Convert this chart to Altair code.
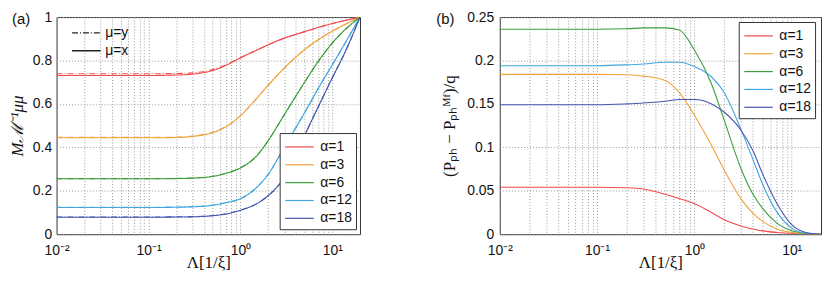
import altair as alt
import pandas as pd

# ---------------- data ----------------
lam = [0.01, 0.02, 0.05, 0.1, 0.2, 0.3, 0.5, 0.7, 1, 1.5, 2, 3, 4, 5, 7, 10, 14, 20]
alphas = ["α=1", "α=3", "α=6", "α=12", "α=18"]
colors = ["#f24a4a", "#f0a23c", "#3c9e3c", "#42a6e0", "#4656ad"]
mus = ["μ=y", "μ=x"]
panel_labels = ["(a)", "(b)"]

# panel (a): M M^-1_{mu mu}, mu = x (solid)
a_x_1 = [0.731, 0.731, 0.731, 0.731, 0.733, 0.737, 0.754, 0.778, 0.812, 0.847, 0.872, 0.903, 0.920, 0.933, 0.952, 0.970, 0.985, 1.0]
a_x_3 = [0.444, 0.444, 0.444, 0.444, 0.445, 0.450, 0.468, 0.495, 0.545, 0.625, 0.685, 0.765, 0.815, 0.850, 0.895, 0.935, 0.968, 1.0]
a_x_6 = [0.255, 0.255, 0.255, 0.255, 0.256, 0.258, 0.266, 0.280, 0.305, 0.360, 0.430, 0.550, 0.635, 0.700, 0.795, 0.880, 0.945, 1.0]
a_x_12 = [0.123, 0.123, 0.123, 0.123, 0.124, 0.126, 0.133, 0.145, 0.163, 0.215, 0.275, 0.400, 0.490, 0.560, 0.670, 0.780, 0.885, 1.0]
a_x_18 = [0.078, 0.078, 0.078, 0.078, 0.079, 0.080, 0.085, 0.093, 0.110, 0.140, 0.177, 0.262, 0.365, 0.455, 0.585, 0.720, 0.845, 1.0]

# panel (a): mu = y (dash-dot)
a_y_1 = [0.739, 0.739, 0.739, 0.739, 0.740, 0.743, 0.758, 0.780, 0.813, 0.848, 0.872, 0.903, 0.920, 0.933, 0.952, 0.970, 0.985, 1.0]
a_y_3 = [0.446, 0.446, 0.446, 0.446, 0.447, 0.452, 0.470, 0.497, 0.546, 0.625, 0.685, 0.765, 0.815, 0.850, 0.895, 0.935, 0.968, 1.0]
a_y_6 = [0.256, 0.256, 0.256, 0.256, 0.257, 0.259, 0.267, 0.281, 0.306, 0.360, 0.430, 0.550, 0.635, 0.700, 0.795, 0.880, 0.945, 1.0]
a_y_12 = [0.124, 0.124, 0.124, 0.124, 0.125, 0.127, 0.134, 0.146, 0.164, 0.215, 0.275, 0.400, 0.490, 0.560, 0.670, 0.780, 0.885, 1.0]
a_y_18 = [0.079, 0.079, 0.079, 0.079, 0.080, 0.081, 0.086, 0.094, 0.111, 0.140, 0.177, 0.262, 0.365, 0.455, 0.585, 0.720, 0.845, 1.0]

# panel (b): (P_ph - P_ph^MF)/q
b_1 = [0.054, 0.054, 0.054, 0.054, 0.0535, 0.052, 0.046, 0.041, 0.035, 0.025, 0.017, 0.0095, 0.006, 0.0038, 0.002, 0.001, 0.0003, 0.0]
b_3 = [0.184, 0.184, 0.184, 0.184, 0.1835, 0.182, 0.177, 0.163, 0.137, 0.102, 0.075, 0.041, 0.024, 0.015, 0.006, 0.002, 0.0005, 0.0]
b_6 = [0.236, 0.236, 0.236, 0.236, 0.2365, 0.2375, 0.2375, 0.235, 0.212, 0.173, 0.133, 0.076, 0.046, 0.030, 0.013, 0.004, 0.001, 0.0]
b_12 = [0.194, 0.194, 0.194, 0.194, 0.195, 0.196, 0.198, 0.198, 0.193, 0.181, 0.164, 0.121, 0.086, 0.058, 0.026, 0.007, 0.001, 0.0]
b_18 = [0.149, 0.149, 0.149, 0.149, 0.150, 0.151, 0.153, 0.155, 0.155, 0.150, 0.141, 0.120, 0.096, 0.070, 0.036, 0.011, 0.002, 0.0]

x_ticks = [m * 10.0 ** e for e in (-2, -1, 0) for m in range(1, 10)] + [10.0]
ya_ticks = [0, 0.2, 0.4, 0.6, 0.8, 1.0]
yb_ticks = [0, 0.05, 0.1, 0.15, 0.2, 0.25]

# ---------------- tables ----------------
rows_a = []
for a, vx, vy in zip(alphas, [a_x_1, a_x_3, a_x_6, a_x_12, a_x_18],
                     [a_y_1, a_y_3, a_y_6, a_y_12, a_y_18]):
    for l, v in zip(lam, vy):
        rows_a.append({"lam": l, "val": v, "alpha": a, "mu": "μ=y"})
    for l, v in zip(lam, vx):
        rows_a.append({"lam": l, "val": v, "alpha": a, "mu": "μ=x"})
df_a = pd.DataFrame(rows_a)

rows_b = []
for a, vals in zip(alphas, [b_1, b_3, b_6, b_12, b_18]):
    for l, v in zip(lam, vals):
        rows_b.append({"lam": l, "val": v, "alpha": a})
df_b = pd.DataFrame(rows_b)

# ---------------- styling ----------------
SANS = "Liberation Sans"
SERIF = "Liberation Serif"
GRID = dict(grid=True, gridDash=[1, 2], gridColor="#9a9a9a", gridWidth=1,
            ticks=False, domain=False, labelFontSize=14, labelFont=SANS,
            labelColor="#111", titleColor="#111", titleFontWeight="normal")

x_label_expr = ("datum.value == 0.01 ? '10⁻²' : datum.value == 0.1 ? '10⁻¹' : "
                "datum.value == 1 ? '10⁰' : datum.value == 10 ? '10¹' : ''")

x_axis = alt.Axis(values=x_ticks, labelExpr=x_label_expr, title="Λ[1/ξ]",
                  labelFlush=False, labelOverlap=False, labelPadding=9,
                  titleFont=SERIF, titleFontSize=17, titlePadding=-2, **GRID)
x_scale = alt.Scale(type="log", domain=[0.01, 20], nice=False)

color_scale = alt.Scale(domain=alphas, range=colors)
LINE_SYMBOL = "M-1.6,0H1.6"

def alpha_legend(lx, ly):
    return alt.Legend(title=None, orient="none", legendX=lx, legendY=ly,
                      symbolType=LINE_SYMBOL, symbolSize=324, symbolStrokeWidth=1.2,
                      symbolOffset=6, labelOffset=11,
                      labelFontSize=14, labelFont=SANS, labelColor="#111",
                      padding=4, rowPadding=1,
                      strokeColor="#333", fillColor="white")

W_A, W_B, H = 306, 324, 219

def panel_text(label, dx):
    return alt.Chart(pd.DataFrame({"t": [label]})).mark_text(
        align="left", baseline="top", fontSize=15, font=SANS, color="#111"
    ).encode(text="t:N", x=alt.value(dx), y=alt.value(-5))

# ---------------- panel (a) ----------------
lines_a = alt.Chart(df_a).mark_line(interpolate="monotone", strokeWidth=1.1, clip=True).encode(
    x=alt.X("lam:Q", scale=x_scale, axis=x_axis),
    y=alt.Y("val:Q", scale=alt.Scale(domain=[0, 1], nice=False),
            axis=alt.Axis(values=ya_ticks, format=".1~f", title="Mℳ⁻¹μμ",
                          labelPadding=5, minExtent=27, maxExtent=27, titlePadding=3,
                          titleFont=SERIF, titleFontSize=17, titleFontStyle="italic", **GRID)),
    color=alt.Color("alpha:N", scale=color_scale, legend=alpha_legend(225, 117)),
    strokeDash=alt.StrokeDash("mu:N", scale=alt.Scale(domain=mus, range=[[6, 2, 1, 2], [1, 0]]),
                              legend=alt.Legend(title=None, orient="none", legendX=14, legendY=6,
                                                symbolType=LINE_SYMBOL, symbolSize=324,
                                                symbolOffset=6, labelOffset=9,
                                                symbolStrokeColor="#222", symbolStrokeWidth=1.4,
                                                labelFontSize=14, labelFont=SANS, labelColor="#111",
                                                padding=0, rowPadding=1)),
    detail="mu:N",
)
panel_a = alt.layer(lines_a, panel_text(panel_labels[0], -45)).properties(width=W_A, height=H)

# ---------------- panel (b) ----------------
lines_b = alt.Chart(df_b).mark_line(interpolate="monotone", strokeWidth=1.1, clip=True).encode(
    x=alt.X("lam:Q", scale=x_scale, axis=x_axis),
    y=alt.Y("val:Q", scale=alt.Scale(domain=[0, 0.25], nice=False),
            axis=alt.Axis(values=yb_ticks, format=".2~f", title="(Pₚₕ − Pₚₕᴹᶠ)/q",
                          labelPadding=6, minExtent=33, maxExtent=33, titlePadding=9,
                          titleFont=SERIF, titleFontSize=17, **GRID)),
    color=alt.Color("alpha:N", scale=color_scale, legend=alpha_legend(241, 5)),
)
panel_b = alt.layer(lines_b, panel_text(panel_labels[1], -64)).properties(width=W_B, height=H)

chart = alt.hconcat(panel_a, panel_b, spacing=75).resolve_scale(
    color="independent", strokeDash="independent", y="independent"
).properties(padding=0).configure_view(stroke="#333", strokeWidth=1)

chart.save("out.html", embed_options={"renderer": "svg", "actions": False})
